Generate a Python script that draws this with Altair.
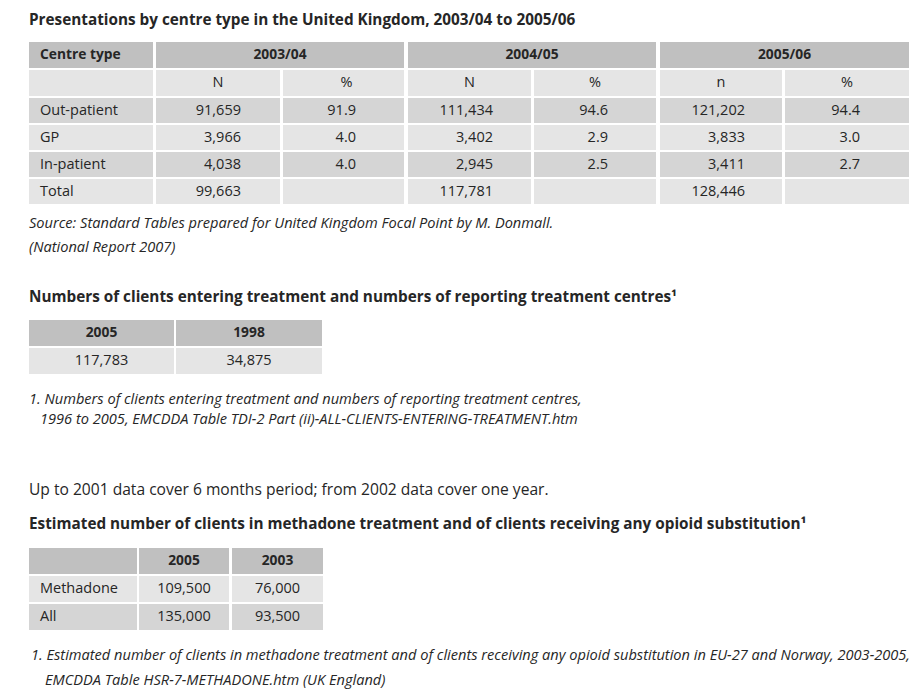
import altair as alt
import pandas as pd

# ------------------------------------------------------------------ data
title1 = "Presentations by centre type in the United Kingdom, 2003/04 to 2005/06"
t1_corner = "Centre type"
t1_years = ["2003/04", "2004/05", "2005/06"]
t1_sub = ["N", "%", "N", "%", "n", "%"]
t1_rows = ["Out-patient", "GP", "In-patient", "Total"]
t1_n_2003 = ["91,659", "3,966", "4,038", "99,663"]
t1_p_2003 = ["91.9", "4.0", "4.0", ""]
t1_n_2004 = ["111,434", "3,402", "2,945", "117,781"]
t1_p_2004 = ["94.6", "2.9", "2.5", ""]
t1_n_2005 = ["121,202", "3,833", "3,411", "128,446"]
t1_p_2005 = ["94.4", "3.0", "2.7", ""]
source1 = ["Source: Standard Tables prepared for United Kingdom Focal Point by M. Donmall.",
           "(National Report 2007)"]

title2 = "Numbers of clients entering treatment and numbers of reporting treatment centres\u00b9"
t2_years = ["2005", "1998"]
t2_values = ["117,783", "34,875"]
note2 = ["1. Numbers of clients entering treatment and numbers of reporting treatment centres,",
         "1996 to 2005, EMCDDA Table TDI-2 Part (ii)-ALL-CLIENTS-ENTERING-TREATMENT.htm"]
remark = "Up to 2001 data cover 6 months period; from 2002 data cover one year."

title3 = "Estimated number of clients in methadone treatment and of clients receiving any opioid substitution\u00b9"
t3_years = ["2005", "2003"]
t3_rows = ["Methadone", "All"]
t3_2005 = ["109,500", "135,000"]
t3_2003 = ["76,000", "93,500"]
note3 = ["1. Estimated number of clients in methadone treatment and of clients receiving any opioid substitution in EU-27 and Norway, 2003-2005,",
         "EMCDDA Table HSR-7-METHADONE.htm (UK England)"]

# ------------------------------------------------------------------ layout / style
DARK, MID, LIGHT = "#c0c0c0", "#d5d5d5", "#e5e5e5"
INK = "#262626"
FONT = "Open Sans"
W, H = 906, 682
S_TITLE, S_HEAD, S_BODY, S_NOTE, S_REMARK = 15.3, 13.8, 14.5, 14.6, 15.6

rects = []
texts = {k: [] for k in ["title", "bold_left", "bold_center", "left", "center", "right", "italic"]}


def cell(x0, x1, y0, y1, fill):
    rects.append(dict(x=x0, x2=x1, y=y0, y2=y1, fill=fill))


def txt(kind, x, y, s, size):
    texts[kind].append(dict(x=x, y=y, text=s, size=size))


def mid(a):
    return (a[0] + a[1]) / 2


# ---- table 1
c1 = [(29, 153), (156, 280), (283, 404), (408, 531), (534, 656), (660, 782), (785, 909)]
r1 = [(42, 68), (70, 96), (98, 123), (125, 150), (152, 177), (179, 204)]
txt("title", 29, 20, title1, S_TITLE)
cell(*c1[0], *r1[0], DARK)
txt("bold_left", 40, mid(r1[0]), t1_corner, S_HEAD)
for i, yr in enumerate(t1_years):
    a, b = c1[1 + 2 * i], c1[2 + 2 * i]
    cell(a[0], b[1], *r1[0], DARK)
    txt("bold_center", (a[0] + b[1]) / 2, mid(r1[0]), yr, S_HEAD)
cell(*c1[0], *r1[1], LIGHT)
sub_off = [0, 3, 0, 0, 0, 0]
for j, s in enumerate(t1_sub):
    cell(*c1[1 + j], *r1[1], LIGHT)
    txt("center", mid(c1[1 + j]) + sub_off[j], mid(r1[1]), s, S_BODY)
cols = [t1_n_2003, t1_p_2003, t1_n_2004, t1_p_2004, t1_n_2005, t1_p_2005]
right_off = [85, 73, 85, 74, 85, 75]
for k, name in enumerate(t1_rows):
    ry = r1[2 + k]
    fill = MID if k % 2 == 0 else LIGHT
    cell(*c1[0], *ry, fill)
    txt("left", 40, mid(ry), name, S_BODY)
    for j, col in enumerate(cols):
        cell(*c1[1 + j], *ry, fill)
        txt("right", c1[1 + j][0] + right_off[j], mid(ry), col[k], S_BODY)
txt("italic", 29, 224, source1[0], S_NOTE)
txt("italic", 29, 248, source1[1], S_NOTE)

# ---- table 2
txt("title", 29, 297, title2, S_TITLE)
c2 = [(29, 174), (176, 322)]
r2 = [(320, 346), (348, 374)]
for j in range(2):
    cell(*c2[j], *r2[0], DARK)
    txt("bold_center", mid(c2[j]), mid(r2[0]), t2_years[j], S_HEAD)
    cell(*c2[j], *r2[1], LIGHT)
    txt("center", mid(c2[j]), mid(r2[1]), t2_values[j], S_BODY)
txt("italic", 29, 400, note2[0], S_NOTE)
txt("italic", 40, 420, note2[1], S_NOTE)
txt("left", 29, 490, remark, S_REMARK)

# ---- table 3
txt("title", 29, 524, title3, S_TITLE)
c3 = [(29, 137), (139, 229), (232, 323)]
r3 = [(548, 574), (576, 602), (604, 630)]
cell(*c3[0], *r3[0], DARK)
for j in range(2):
    cell(*c3[1 + j], *r3[0], DARK)
    txt("bold_center", mid(c3[1 + j]), mid(r3[0]), t3_years[j], S_HEAD)
vals3 = [t3_2005, t3_2003]
for k, name in enumerate(t3_rows):
    ry = r3[1 + k]
    fill = LIGHT if k == 0 else MID
    cell(*c3[0], *ry, fill)
    txt("left", 40, mid(ry), name, S_BODY)
    for j in range(2):
        cell(*c3[1 + j], *ry, fill)
        txt("center", mid(c3[1 + j]), mid(ry), vals3[j][k], S_BODY)
txt("italic", 31, 656, note3[0], S_NOTE)
txt("italic", 45, 681, note3[1], S_NOTE)

# ------------------------------------------------------------------ chart
xs = alt.Scale(domain=[8, 8 + W], nice=False, zero=False)
ys = alt.Scale(domain=[8, 8 + H], nice=False, zero=False, reverse=True)


def X():
    return alt.X("x:Q", scale=xs, axis=None)


def Y():
    return alt.Y("y:Q", scale=ys, axis=None)


rect_layer = alt.Chart(pd.DataFrame(rects)).mark_rect(strokeWidth=0).encode(
    x=X(), x2="x2:Q", y=Y(), y2="y2:Q", color=alt.Color("fill:N", scale=None)
)

styles = {
    "title": dict(align="left", fontWeight="bold"),
    "bold_left": dict(align="left", fontWeight="bold"),
    "bold_center": dict(align="center", fontWeight="bold"),
    "left": dict(align="left"),
    "center": dict(align="center"),
    "right": dict(align="right"),
    "italic": dict(align="left", fontStyle="italic"),
}
layers = [rect_layer]
for kind, rows in texts.items():
    layers.append(
        alt.Chart(pd.DataFrame(rows)).mark_text(
            baseline="middle", font=FONT, color=INK, **styles[kind]
        ).encode(x=X(), y=Y(), text="text:N", size=alt.Size("size:Q", scale=None))
    )

chart = alt.layer(*layers).properties(
    width=W, height=H, autosize="none", padding=0, background="white"
).configure_view(strokeWidth=0)

chart.save("out.html", embed_options={"renderer": "svg", "actions": False})
